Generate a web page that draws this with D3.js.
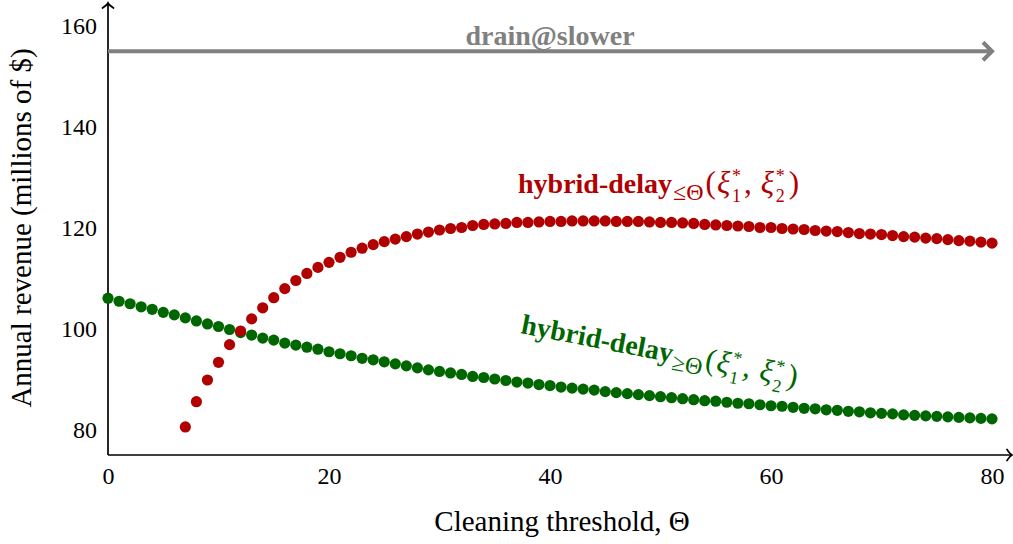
<!DOCTYPE html>
<html>
<head>
<meta charset="utf-8">
<script src="https://cdn.jsdelivr.net/npm/d3@7/dist/d3.min.js"></script>
<style>
  html, body { margin: 0; padding: 0; background: #fff; }
  svg { display: block; }
</style>
</head>
<body>
<svg id="chart" width="1013" height="544"></svg>
<script>
// Annual revenue vs. cleaning threshold Θ
const xTicks = [0, 20, 40, 60, 80];
const yTicks = [80, 100, 120, 140, 160];

// hybrid-delay ≥Θ, Θ = 0 … 80
const greenStart = 0;
const greenValues = [
  106.1, 105.5, 105.0, 104.4, 103.9, 103.3, 102.8, 102.2, 101.6, 101.0,
  100.5, 99.9, 99.3, 98.8, 98.2, 97.8, 97.2, 96.8, 96.4, 96.0,
  95.5, 95.1, 94.7, 94.2, 93.9, 93.5, 93.1, 92.7, 92.3, 91.9,
  91.6, 91.3, 91.0, 90.6, 90.4, 90.1, 89.8, 89.5, 89.3, 89.0,
  88.8, 88.5, 88.3, 88.1, 87.9, 87.6, 87.4, 87.2, 87.0, 86.8,
  86.6, 86.4, 86.2, 86.0, 85.8, 85.7, 85.5, 85.3, 85.2, 85.0,
  84.8, 84.7, 84.5, 84.3, 84.2, 84.0, 83.9, 83.7, 83.6, 83.4,
  83.3, 83.2, 83.0, 82.9, 82.8, 82.7, 82.6, 82.5, 82.4, 82.3,
  82.2
];

// hybrid-delay ≤Θ, Θ = 7 … 80
const redStart = 7;
const redValues = [
  80.6, 85.6, 89.9, 93.4, 96.9, 99.6, 102.0, 104.2, 106.2, 108.0,
  109.6, 111.0, 112.2, 113.2, 114.2, 115.2, 116.0, 116.7, 117.3, 117.8,
  118.3, 118.8, 119.2, 119.6, 119.9, 120.1, 120.5, 120.7, 120.8, 120.9,
  121.1, 121.1, 121.2, 121.3, 121.3, 121.4, 121.4, 121.4, 121.4, 121.3,
  121.3, 121.3, 121.2, 121.1, 121.1, 121.0, 120.9, 120.7, 120.6, 120.5,
  120.4, 120.3, 120.1, 120.1, 119.9, 119.8, 119.7, 119.5, 119.4, 119.3,
  119.1, 118.9, 118.8, 118.7, 118.5, 118.3, 118.2, 118.0, 117.9, 117.7,
  117.5, 117.4, 117.2, 117.0
];

// drain@slower reference level
const drainValue = 155;

const RED = "#b00000";
const GREEN = "#006600";
const GRAY = "#808080";
const SERIF = "'Liberation Serif', 'Times New Roman', serif";

const svg = d3.select("#chart");

const x = d3.scaleLinear().domain([0, 80]).range([108, 992]);
const y = d3.scaleLinear().domain([80, 160]).range([430, 26]);

const axisY0 = 455;      // baseline of the x axis
const axisTop = 3;       // tip of the y axis arrow
const axisRight = 1012;  // tip of the x axis arrow

// axes with arrow tips
const axes = svg.append("g").attr("stroke", "#000").attr("stroke-width", 1.7).attr("fill", "none");
axes.append("line").attr("x1", x(0)).attr("y1", axisY0).attr("x2", axisRight).attr("y2", axisY0);
axes.append("line").attr("x1", x(0)).attr("y1", axisY0).attr("x2", x(0)).attr("y2", axisTop + 0.5);
axes.append("path")
  .attr("d", `M${axisRight - 5},${axisY0 - 5.5} Q${axisRight - 2},${axisY0 - 1} ${axisRight},${axisY0} Q${axisRight - 2},${axisY0 + 1} ${axisRight - 5},${axisY0 + 5.5}`)
  .attr("stroke-linecap", "round");
axes.append("path")
  .attr("d", `M${x(0) - 5.5},${axisTop + 5} Q${x(0) - 1},${axisTop + 2} ${x(0)},${axisTop} Q${x(0) + 1},${axisTop + 2} ${x(0) + 5.5},${axisTop + 5}`)
  .attr("stroke-linecap", "round");

// tick labels
const xAxis = d3.axisBottom(x).tickValues(xTicks).tickSize(0).tickPadding(0).tickFormat(d3.format("d"));
const gx = svg.append("g").attr("transform", `translate(0,${axisY0})`).call(xAxis);
gx.select(".domain").remove();
gx.selectAll("text")
  .attr("font-family", SERIF).attr("font-size", 24).attr("fill", "#000")
  .attr("y", 29).attr("dy", 0);

const yAxis = d3.axisLeft(y).tickValues(yTicks).tickSize(0).tickPadding(0).tickFormat(d3.format("d"));
const gy = svg.append("g").attr("transform", `translate(${x(0)},0)`).call(yAxis);
gy.select(".domain").remove();
gy.selectAll("text")
  .attr("font-family", SERIF).attr("font-size", 24).attr("fill", "#000")
  .attr("x", -11).attr("dy", "0.33em");

// axis titles
svg.append("text")
  .attr("x", 562).attr("y", 531)
  .attr("text-anchor", "middle")
  .attr("font-family", SERIF).attr("font-size", 29)
  .text("Cleaning threshold, Θ");

svg.append("text")
  .attr("transform", `translate(31,228) rotate(-90)`)
  .attr("text-anchor", "middle")
  .attr("font-family", SERIF).attr("font-size", 29)
  .text("Annual revenue (millions of $)");

// drain@slower level arrow
const dy0 = y(drainValue);
svg.append("line")
  .attr("x1", x(0)).attr("y1", dy0).attr("x2", x(80)).attr("y2", dy0)
  .attr("stroke", GRAY).attr("stroke-width", 4);
svg.append("path")
  .attr("d", `M${x(80) - 9},${dy0 - 9} L${x(80)},${dy0} L${x(80) - 9},${dy0 + 9}`)
  .attr("fill", "none").attr("stroke", GRAY).attr("stroke-width", 4)
  .attr("stroke-linejoin", "miter");
svg.append("text")
  .attr("x", x(40)).attr("y", dy0 - 6)
  .attr("text-anchor", "middle")
  .attr("font-family", SERIF).attr("font-size", 28).attr("font-weight", "bold")
  .attr("fill", GRAY)
  .text("drain@slower");

// scatter series
const R = 5.6;
const greenPts = greenValues.map((v, i) => ({ t: greenStart + i, v }));
const redPts = redValues.map((v, i) => ({ t: redStart + i, v }));

svg.append("g").selectAll("circle").data(greenPts).join("circle")
  .attr("cx", d => x(d.t)).attr("cy", d => y(d.v)).attr("r", R).attr("fill", GREEN);
svg.append("g").selectAll("circle").data(redPts).join("circle")
  .attr("cx", d => x(d.t)).attr("cy", d => y(d.v)).attr("r", R).attr("fill", RED);

// series labels: hybrid-delay_{rel Θ}(ξ1*, ξ2*)
function seriesLabel(px, py, angle, rel, color) {
  const g = svg.append("g")
    .attr("transform", `translate(${px},${py}) rotate(${angle})`)
    .attr("font-family", SERIF).attr("fill", color);
  const right = sel => { const b = sel.node().getBBox(); return b.x + b.width; };

  const main = g.append("text");
  main.append("tspan").attr("font-size", 28).attr("font-weight", "bold").text("hybrid-delay");
  const sub = g.append("text").attr("x", right(main) + 1).attr("y", 7)
    .attr("font-size", 24).text(rel);
  let pos = right(sub) + 2;

  const open = g.append("text").attr("x", pos).attr("font-size", 31).text("(");
  pos = right(open) + 1;

  // ξ with stacked * and index
  function xiStack(index) {
    const xi = g.append("text").attr("x", pos).attr("font-size", 31)
      .attr("font-style", "italic").text("ξ");
    const r = right(xi);
    g.append("text").attr("x", r + 1).attr("y", -11).attr("font-size", 18).text("*");
    g.append("text").attr("x", r + 1).attr("y", 9).attr("font-size", 18).text(index);
    pos = r + 12;
  }

  xiStack("1");
  const comma = g.append("text").attr("x", pos + 1).attr("font-size", 31).text(",");
  pos = right(comma) + 9;
  xiStack("2");
  g.append("text").attr("x", pos + 2).attr("font-size", 31).text(")");
}

seriesLabel(518, 193, 0, "≤Θ", RED);
seriesLabel(520, 333, 11, "≥Θ", GREEN);
</script>
</body>
</html>
